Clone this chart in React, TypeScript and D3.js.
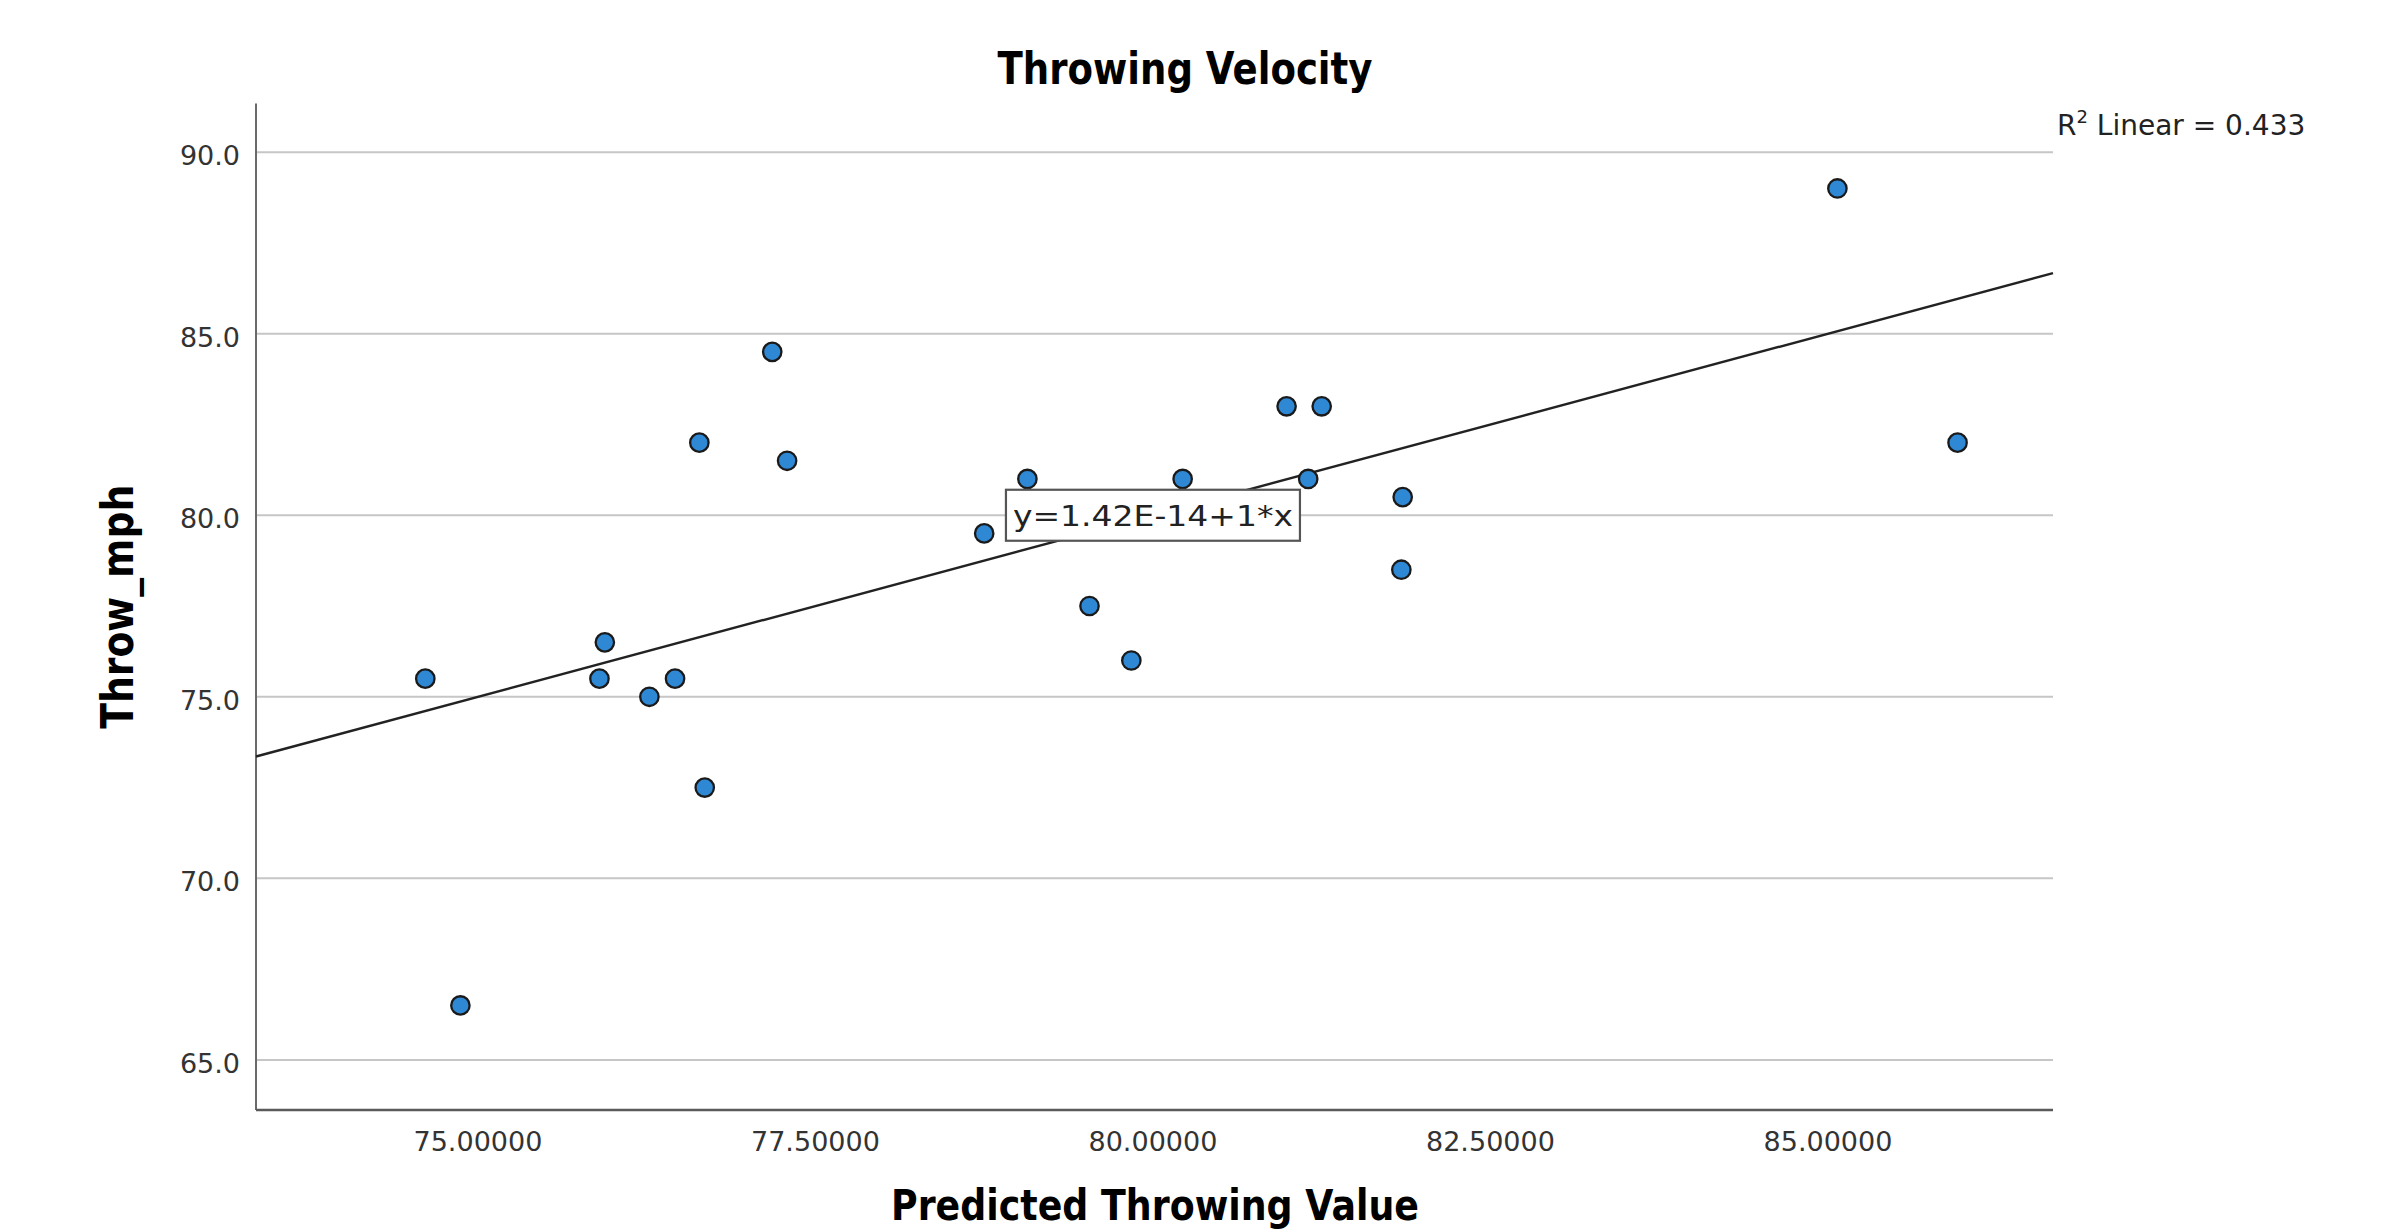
import React from "react";
import * as d3 from "d3";

const predicted = [74.61, 74.87, 75.9, 75.94, 76.27, 76.46, 76.64, 76.68, 77.18, 77.29, 78.75, 79.07, 79.53, 79.84, 80.22, 80.99, 81.15, 81.25, 81.85, 81.84, 85.07, 85.96];
const throwMph = [75.5, 66.5, 75.5, 76.5, 75.0, 75.5, 82.0, 72.5, 84.5, 81.5, 79.5, 81.0, 77.5, 76.0, 81.0, 83.0, 81.0, 83.0, 80.5, 78.5, 89.0, 82.0];
const xTicks = [75, 77.5, 80, 82.5, 85];
const yTicks = [65, 70, 75, 80, 85, 90];
const fitIntercept = 1.42e-14;
const fitSlope = 1;
const rSquared = 0.433;
const equationLabel = "y=1.42E-14+1*x";
const equationAnchor = [80, 80];

const W = 2388;
const H = 1232;
const left = 256;
const right = 2053;
const top = 103.5;
const bottom = 1110;

export default function App() {
  const x = d3.scaleLinear().domain([73.356, 86.667]).range([left, right]);
  const y = d3.scaleLinear().domain([63.62, 91.34]).range([bottom, top]);
  const xd = x.domain();
  const fitLine = d3.line<number>()
    .x((v) => x(v))
    .y((v) => y(fitIntercept + fitSlope * v))(xd as number[]);
  const font = "'DejaVu Sans', Verdana, sans-serif";
  const bx = x(equationAnchor[0]);
  const by = y(equationAnchor[1]);
  const boxW = 294;
  const boxH = 51;
  return (
    <svg width={W} height={H} style={{ position: "absolute", left: 0, top: 0, background: "#fff" }} fontFamily={font}>
      <rect x={0} y={0} width={W} height={H} fill="#fff" />
      {yTicks.map((t) => (
        <g key={t}>
          <line x1={left} x2={right} y1={y(t)} y2={y(t)} stroke="#c6c6c6" strokeWidth={2} />
          <text x={240} y={y(t) + 13} textAnchor="end" fontSize={27} fill="#333">{t.toFixed(1)}</text>
        </g>
      ))}
      {xTicks.map((t) => (
        <text key={t} x={x(t)} y={1151} textAnchor="middle" fontSize={27} fill="#333">{t.toFixed(5)}</text>
      ))}
      <line x1={left} x2={left} y1={top} y2={bottom} stroke="#6a6a6a" strokeWidth={2} />
      <line x1={left} x2={right} y1={bottom} y2={bottom} stroke="#5a5a5a" strokeWidth={2.5} />
      <path d={fitLine || ""} fill="none" stroke="#222" strokeWidth={2.4} />
      {predicted.map((p, i) => (
        <circle key={i} cx={x(p)} cy={y(throwMph[i])} r={9.2} fill="#2f88d4" stroke="#1a1a1a" strokeWidth={2.3} />
      ))}
      <rect x={bx - boxW / 2} y={by - boxH / 2} width={boxW} height={boxH} fill="#fff" stroke="#555" strokeWidth={2.2} />
      <text x={bx} y={by + 11} textAnchor="middle" fontSize={29} fill="#222" textLength={280} lengthAdjust="spacingAndGlyphs">{equationLabel}</text>
      <text x={1185} y={84} textAnchor="middle" fontSize={45} fontWeight="bold" fill="#000" textLength={375} lengthAdjust="spacingAndGlyphs">Throwing Velocity</text>
      <text x={1155} y={1220} textAnchor="middle" fontSize={43} fontWeight="bold" fill="#000" textLength={528} lengthAdjust="spacingAndGlyphs">Predicted Throwing Value</text>
      <text transform={`translate(133, ${(top + bottom) / 2}) rotate(-90)`} textAnchor="middle" fontSize={44} fontWeight="bold" fill="#000" textLength={244} lengthAdjust="spacingAndGlyphs">Throw_mph</text>
      <text x={2057} y={135} fontSize={28} fill="#222">
        R<tspan fontSize={18} dy={-12}>2</tspan>
        <tspan dy={12}> Linear = {rSquared.toFixed(3)}</tspan>
      </text>
    </svg>
  );
}
